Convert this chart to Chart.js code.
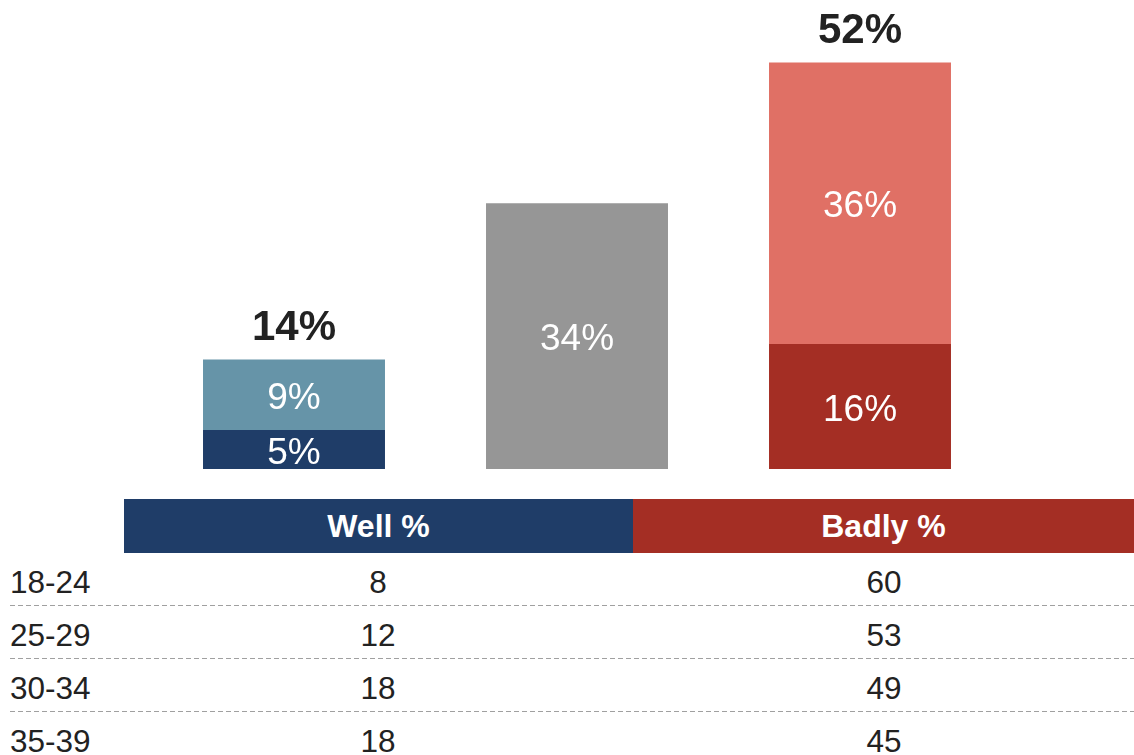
<!DOCTYPE html>
<html>
<head>
<meta charset="utf-8">
<script src="https://cdn.jsdelivr.net/npm/chart.js@4.4.1/dist/chart.umd.min.js"></script>
<style>
  html, body { margin: 0; padding: 0; background: #fff; }
  body { width: 1134px; height: 755px; position: relative; overflow: hidden;
         font-family: "Liberation Sans", Arial, sans-serif; color: #222; }
  #chartBox { position: absolute; left: 0; top: 0; width: 1134px; height: 469px; }
  #table { position: absolute; left: 0; top: 499px; width: 1134px; }
  .head { position: absolute; top: 0; height: 54px; line-height: 54px; color: #fff;
          font-weight: bold; font-size: 32px; text-align: center; }
  .row { position: absolute; left: 10px; width: 1124px; height: 53px; }
  .row.dash { background: repeating-linear-gradient(to right, #a0a0a0 0 5px, transparent 5px 8px) bottom / 100% 1px no-repeat; }
  .row span { position: absolute; top: 0; line-height: 58px; font-size: 31.5px; }
  .row .age { left: 0; }
  .row .v { text-align: center; width: 200px; }
</style>
</head>
<body>
<div id="chartBox"><canvas id="barChart" width="1134" height="469"></canvas></div>
<div id="table"></div>
<script>
// Bars
const groups = ['Well', 'Neither', 'Badly'];
const veryWell = [5, null, null];
const fairlyWell = [9, null, null];
const neither = [null, 34, null];
const veryBadly = [null, null, 16];
const fairlyBadly = [null, null, 36];
const totals = [14, null, 52];

// Table
const ageGroups = ['18-24', '25-29', '30-34', '35-39'];
const wellByAge = [8, 12, 18, 18];
const badlyByAge = [60, 53, 49, 45];
const tableHeads = ['Well %', 'Badly %'];

const labelPlugin = {
    id: 'barLabels',
    afterDatasetsDraw(chart) {
        const ctx = chart.ctx;
        ctx.save();
        ctx.textAlign = 'center';
        ctx.textBaseline = 'middle';
        ctx.fillStyle = '#fff';
        ctx.font = '37px "Liberation Sans", Arial, sans-serif';
        const tops = [];
        chart.data.datasets.forEach((ds, i) => {
            chart.getDatasetMeta(i).data.forEach((el, j) => {
                const v = ds.data[j];
                if (v === null || v === undefined) return;
                ctx.fillText(v + '%', el.x, (el.y + el.base) / 2 + 4);
                if (tops[j] === undefined || el.y < tops[j].y) tops[j] = { x: el.x, y: el.y };
            });
        });
        ctx.fillStyle = '#222';
        ctx.font = 'bold 42px "Liberation Sans", Arial, sans-serif';
        totals.forEach((t, j) => {
            if (t === null || !tops[j]) return;
            ctx.fillText(t + '%', tops[j].x, tops[j].y - 31);
        });
        ctx.restore();
    }
};

new Chart(document.getElementById('barChart').getContext('2d'), {
    type: 'bar',
    data: {
        labels: groups,
        datasets: [
            { label: 'Very well', data: veryWell, backgroundColor: '#1f3d68' },
            { label: 'Fairly well', data: fairlyWell, backgroundColor: '#6694a8' },
            { label: 'Neither', data: neither, backgroundColor: '#969696' },
            { label: 'Very badly', data: veryBadly, backgroundColor: '#a42e24' },
            { label: 'Fairly badly', data: fairlyBadly, backgroundColor: '#e07065' }
        ]
    },
    options: {
        responsive: false,
        animation: false,
        layout: { padding: { left: 152.5, right: 132.5, top: 0, bottom: 0 } },
        datasets: { bar: { barPercentage: 0.643, categoryPercentage: 1 } },
        plugins: { legend: { display: false }, tooltip: { enabled: false } },
        scales: {
            x: { stacked: true, display: false },
            y: { stacked: true, display: false, min: 0, max: 60 }
        }
    },
    plugins: [labelPlugin]
});

// Table below the chart
const table = document.getElementById('table');
let html = '';
html += '<div class="head" style="left:124px;width:509px;background:#1f3d68">' + tableHeads[0] + '</div>';
html += '<div class="head" style="left:633px;width:501px;background:#a42e24">' + tableHeads[1] + '</div>';
ageGroups.forEach((age, i) => {
    const top = 54 + i * 53;
    const cls = i < ageGroups.length - 1 ? 'row dash' : 'row';
    html += '<div class="' + cls + '" style="top:' + top + 'px">' +
        '<span class="age">' + age + '</span>' +
        '<span class="v" style="left:' + (378 - 10 - 100) + 'px">' + wellByAge[i] + '</span>' +
        '<span class="v" style="left:' + (884 - 10 - 100) + 'px">' + badlyByAge[i] + '</span>' +
        '</div>';
});
table.innerHTML = html;
</script>
</body>
</html>
